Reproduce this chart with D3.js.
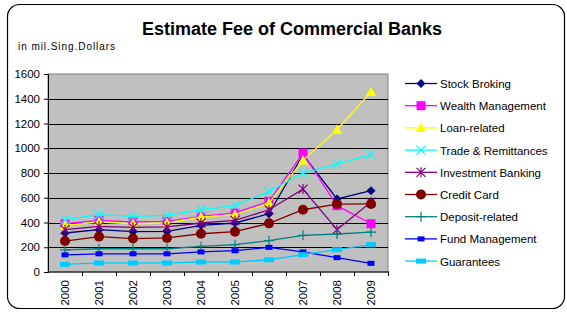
<!DOCTYPE html>
<html lang="en">
<head>
<meta charset="UTF-8">
<title>Estimate Fee of Commercial Banks</title>
<script src="https://d3js.org/d3.v7.min.js"></script>
<style>
  body { margin:0; background:#fff; }
  text { font-family: Arial, "Liberation Sans", sans-serif; }
</style>
</head>
<body>
<div id="chart"></div>
<script>
// data
const years = ["2000","2001","2002","2003","2004","2005","2006","2007","2008","2009"];
const yTicks = [0, 200, 400, 600, 800, 1000, 1200, 1400, 1600];

const stockBroking   = [315, 342, 326, 328, 377, 396, 471, 948, 590, 657];
const wealthMgmt     = [390, 417, 404, 409, 449, 477, 571, 961, 536, 390];
const loanRelated    = [377, 404, 390, 396, 444, 463, 557, 902, 1150, 1454];
const tradeRemit     = [423, 463, 449, 457, 503, 536, 651, 800, 872, 948];
const investBanking  = [342, 369, 361, 364, 396, 417, 503, 670, 342, 565];
const creditCard     = [250, 286, 270, 275, 309, 326, 393, 503, 549, 550];
const depositRelated = [178, 188, 188, 188, 207, 221, 253, 296, 307, 323];
const fundMgmt       = [138, 147, 147, 147, 162, 172, 199, 162, 116, 70];
const guarantees     = [62, 73, 73, 73, 81, 81, 99, 140, 180, 221];

const series = [
  {name:"Stock Broking", values:stockBroking, color:"#000080", marker:"diamond"},
  {name:"Wealth Management", values:wealthMgmt, color:"#FF00FF", marker:"square"},
  {name:"Loan-related", values:loanRelated, color:"#FFFF00", marker:"triangle"},
  {name:"Trade & Remittances", values:tradeRemit, color:"#00FFFF", marker:"x"},
  {name:"Investment Banking", values:investBanking, color:"#800080", marker:"star"},
  {name:"Credit Card", values:creditCard, color:"#800000", marker:"circle"},
  {name:"Deposit-related", values:depositRelated, color:"#008080", marker:"plus"},
  {name:"Fund Management", values:fundMgmt, color:"#0000FF", marker:"smallrect"},
  {name:"Guarantees", values:guarantees, color:"#00CCFF", marker:"widerect"}
];

const W = 567, H = 312;
const plot = {left:48, right:388, top:74, bottom:272};

const svg = d3.select("#chart").append("svg")
  .attr("width", W).attr("height", H);

// outer frame
svg.append("rect")
  .attr("x", 7.5).attr("y", 4.5)
  .attr("width", 557).attr("height", 304)
  .attr("rx", 12).attr("ry", 12)
  .attr("fill", "#fff").attr("stroke", "#000").attr("stroke-width", 1.2);

svg.append("text")
  .attr("x", 292).attr("y", 35)
  .attr("text-anchor", "middle")
  .style("font-size", "18px").style("font-weight", "bold")
  .text("Estimate Fee of Commercial Banks");

svg.append("text")
  .attr("x", 18).attr("y", 50)
  .style("font-size", "10px")
  .attr("textLength", 97)
  .text("in mil.Sing.Dollars");

const x = d3.scaleBand().domain(years).range([plot.left, plot.right]).padding(0);
const y = d3.scaleLinear().domain([0, 1600]).range([plot.bottom, plot.top]);

// plot background
svg.append("rect")
  .attr("x", plot.left).attr("y", plot.top)
  .attr("width", plot.right - plot.left).attr("height", plot.bottom - plot.top)
  .attr("fill", "#C0C0C0").attr("stroke", "#808080");

// gridlines
svg.append("g").selectAll("line")
  .data(yTicks.filter(d => d > 0 && d < 1600))
  .enter().append("line")
  .attr("x1", plot.left).attr("x2", plot.right)
  .attr("y1", d => Math.round(y(d)) + 0.5).attr("y2", d => Math.round(y(d)) + 0.5)
  .attr("stroke", "#000").attr("stroke-width", 1);

// y axis
const yAxis = svg.append("g")
  .attr("transform", "translate(" + plot.left + ",0)")
  .call(d3.axisLeft(y).tickValues(yTicks).tickFormat(d3.format("d")).tickSize(4).tickPadding(4));
yAxis.select(".domain").attr("stroke", "#000");
yAxis.selectAll("text").style("font-size", "11.5px").attr("fill", "#000")
  .style("font-family", "Arial, 'Liberation Sans', sans-serif");

// x axis: ticks between categories
const xAxis = svg.append("g")
  .attr("transform", "translate(0," + plot.bottom + ")");
xAxis.append("line")
  .attr("x1", plot.left).attr("x2", plot.right + 1)
  .attr("stroke", "#000");
xAxis.selectAll("line.tk")
  .data(years.slice(1).concat(["end"]))
  .enter().append("line").attr("class", "tk")
  .attr("x1", (d, i) => Math.round(plot.left + (i + 1) * x.bandwidth()) + 0.5)
  .attr("x2", (d, i) => Math.round(plot.left + (i + 1) * x.bandwidth()) + 0.5)
  .attr("y1", 0).attr("y2", 4)
  .attr("stroke", "#000");
xAxis.selectAll("text")
  .data(years)
  .enter().append("text")
  .attr("transform", d => "translate(" + (x(d) + x.bandwidth() / 2 + 4) + ",8) rotate(-90)")
  .attr("text-anchor", "end")
  .style("font-size", "11.5px")
  .text(d => d);

const line = d3.line()
  .x((d, i) => x(years[i]) + x.bandwidth() / 2)
  .y(d => y(d));

function drawMarker(g, type, color) {
  if (type === "diamond") {
    g.append("path").attr("d", "M0,-4.5L4.5,0L0,4.5L-4.5,0Z").attr("fill", color);
  } else if (type === "square") {
    g.append("rect").attr("x", -4.5).attr("y", -4.5).attr("width", 9).attr("height", 9).attr("fill", color);
  } else if (type === "triangle") {
    g.append("path").attr("d", "M0,-5.5L5,4L-5,4Z").attr("fill", color);
  } else if (type === "x") {
    g.append("path").attr("d", "M-4.5,-4.5L4.5,4.5M-4.5,4.5L4.5,-4.5").attr("stroke", color).attr("stroke-width", 1.2);
  } else if (type === "star") {
    g.append("path").attr("d", "M-4.5,-4.5L4.5,4.5M-4.5,4.5L4.5,-4.5M0,-5L0,5").attr("stroke", color).attr("stroke-width", 1.2);
  } else if (type === "circle") {
    g.append("circle").attr("r", 5).attr("fill", color);
  } else if (type === "plus") {
    g.append("path").attr("d", "M-5,0L5,0M0,-5L0,5").attr("stroke", color).attr("stroke-width", 1.2);
  } else if (type === "smallrect") {
    g.append("rect").attr("x", -3.5).attr("y", -2.5).attr("width", 7).attr("height", 5).attr("fill", color);
  } else if (type === "widerect") {
    g.append("rect").attr("x", -5).attr("y", -2.5).attr("width", 10).attr("height", 5).attr("fill", color);
  }
}

series.forEach(s => {
  const g = svg.append("g");
  g.append("path")
    .datum(s.values)
    .attr("d", line)
    .attr("fill", "none")
    .attr("stroke", s.color)
    .attr("stroke-width", 1.3);
  g.selectAll("g.pt")
    .data(s.values)
    .enter().append("g").attr("class", "pt")
    .attr("transform", (d, i) => "translate(" + (x(years[i]) + x.bandwidth() / 2) + "," + y(d) + ")")
    .each(function() { drawMarker(d3.select(this), s.marker, s.color); });
});

// legend
const legend = svg.append("g");
series.forEach((s, i) => {
  const ly = 83.5 + i * 22.2;
  const lg = legend.append("g").attr("transform", "translate(405," + ly + ")");
  lg.append("line").attr("x1", 0).attr("x2", 32).attr("stroke", s.color).attr("stroke-width", 1.3);
  const m = lg.append("g").attr("transform", "translate(16,0)");
  drawMarker(m, s.marker, s.color);
  lg.append("text").attr("x", 35).attr("y", 4.5)
    .style("font-size", "11.5px").text(s.name);
});
</script>
</body>
</html>
